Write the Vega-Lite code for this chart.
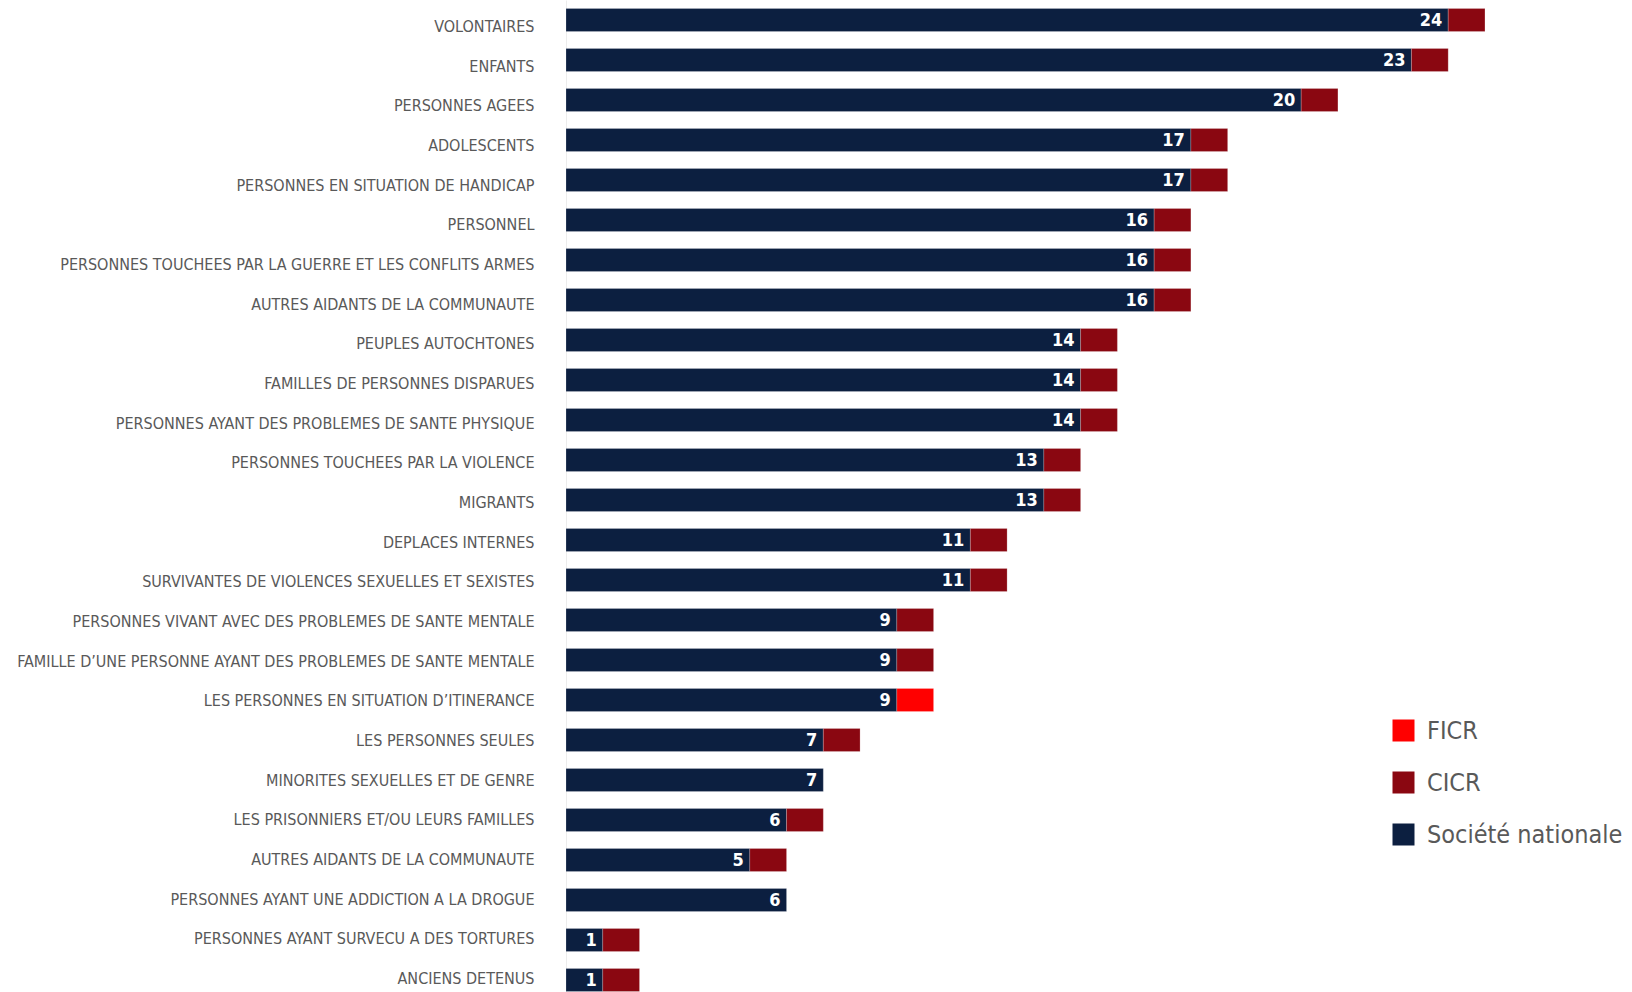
{
  "$schema": "https://vega.github.io/schema/vega-lite/v6.json",
  "width": 1066,
  "height": 1000,
  "padding": 0,
  "background": "white",
  "config": {"view": {"stroke": null}},
  "data": {"values": [
    {"cat": "VOLONTAIRES", "rank": 1, "org": "Société nationale", "n": 24},
    {"cat": "VOLONTAIRES", "rank": 1, "org": "CICR", "n": 1},
    {"cat": "ENFANTS", "rank": 2, "org": "Société nationale", "n": 23},
    {"cat": "ENFANTS", "rank": 2, "org": "CICR", "n": 1},
    {"cat": "PERSONNES AGEES", "rank": 3, "org": "Société nationale", "n": 20},
    {"cat": "PERSONNES AGEES", "rank": 3, "org": "CICR", "n": 1},
    {"cat": "ADOLESCENTS", "rank": 4, "org": "Société nationale", "n": 17},
    {"cat": "ADOLESCENTS", "rank": 4, "org": "CICR", "n": 1},
    {"cat": "PERSONNES EN SITUATION DE HANDICAP", "rank": 5, "org": "Société nationale", "n": 17},
    {"cat": "PERSONNES EN SITUATION DE HANDICAP", "rank": 5, "org": "CICR", "n": 1},
    {"cat": "PERSONNEL", "rank": 6, "org": "Société nationale", "n": 16},
    {"cat": "PERSONNEL", "rank": 6, "org": "CICR", "n": 1},
    {"cat": "PERSONNES TOUCHEES PAR LA GUERRE ET LES CONFLITS ARMES", "rank": 7, "org": "Société nationale", "n": 16},
    {"cat": "PERSONNES TOUCHEES PAR LA GUERRE ET LES CONFLITS ARMES", "rank": 7, "org": "CICR", "n": 1},
    {"cat": "AUTRES AIDANTS DE LA COMMUNAUTE", "rank": 8, "org": "Société nationale", "n": 16},
    {"cat": "AUTRES AIDANTS DE LA COMMUNAUTE", "rank": 8, "org": "CICR", "n": 1},
    {"cat": "PEUPLES AUTOCHTONES", "rank": 9, "org": "Société nationale", "n": 14},
    {"cat": "PEUPLES AUTOCHTONES", "rank": 9, "org": "CICR", "n": 1},
    {"cat": "FAMILLES DE PERSONNES DISPARUES", "rank": 10, "org": "Société nationale", "n": 14},
    {"cat": "FAMILLES DE PERSONNES DISPARUES", "rank": 10, "org": "CICR", "n": 1},
    {"cat": "PERSONNES AYANT DES PROBLEMES DE SANTE PHYSIQUE", "rank": 11, "org": "Société nationale", "n": 14},
    {"cat": "PERSONNES AYANT DES PROBLEMES DE SANTE PHYSIQUE", "rank": 11, "org": "CICR", "n": 1},
    {"cat": "PERSONNES TOUCHEES PAR LA VIOLENCE", "rank": 12, "org": "Société nationale", "n": 13},
    {"cat": "PERSONNES TOUCHEES PAR LA VIOLENCE", "rank": 12, "org": "CICR", "n": 1},
    {"cat": "MIGRANTS", "rank": 13, "org": "Société nationale", "n": 13},
    {"cat": "MIGRANTS", "rank": 13, "org": "CICR", "n": 1},
    {"cat": "DEPLACES INTERNES", "rank": 14, "org": "Société nationale", "n": 11},
    {"cat": "DEPLACES INTERNES", "rank": 14, "org": "CICR", "n": 1},
    {"cat": "SURVIVANTES DE VIOLENCES SEXUELLES ET SEXISTES", "rank": 15, "org": "Société nationale", "n": 11},
    {"cat": "SURVIVANTES DE VIOLENCES SEXUELLES ET SEXISTES", "rank": 15, "org": "CICR", "n": 1},
    {"cat": "PERSONNES VIVANT AVEC DES PROBLEMES DE SANTE MENTALE", "rank": 16, "org": "Société nationale", "n": 9},
    {"cat": "PERSONNES VIVANT AVEC DES PROBLEMES DE SANTE MENTALE", "rank": 16, "org": "CICR", "n": 1},
    {"cat": "FAMILLE D’UNE PERSONNE AYANT DES PROBLEMES DE SANTE MENTALE", "rank": 17, "org": "Société nationale", "n": 9},
    {"cat": "FAMILLE D’UNE PERSONNE AYANT DES PROBLEMES DE SANTE MENTALE", "rank": 17, "org": "CICR", "n": 1},
    {"cat": "LES PERSONNES EN SITUATION D’ITINERANCE", "rank": 18, "org": "Société nationale", "n": 9},
    {"cat": "LES PERSONNES EN SITUATION D’ITINERANCE", "rank": 18, "org": "FICR", "n": 1},
    {"cat": "LES PERSONNES SEULES", "rank": 19, "org": "Société nationale", "n": 7},
    {"cat": "LES PERSONNES SEULES", "rank": 19, "org": "CICR", "n": 1},
    {"cat": "MINORITES SEXUELLES ET DE GENRE", "rank": 20, "org": "Société nationale", "n": 7},
    {"cat": "LES PRISONNIERS ET/OU LEURS FAMILLES", "rank": 21, "org": "Société nationale", "n": 6},
    {"cat": "LES PRISONNIERS ET/OU LEURS FAMILLES", "rank": 21, "org": "CICR", "n": 1},
    {"cat": "AUTRES AIDANTS DE LA COMMUNAUTE ", "rank": 22, "org": "Société nationale", "n": 5},
    {"cat": "AUTRES AIDANTS DE LA COMMUNAUTE ", "rank": 22, "org": "CICR", "n": 1},
    {"cat": "PERSONNES AYANT UNE ADDICTION A LA DROGUE", "rank": 23, "org": "Société nationale", "n": 6},
    {"cat": "PERSONNES AYANT SURVECU A DES TORTURES", "rank": 24, "org": "Société nationale", "n": 1},
    {"cat": "PERSONNES AYANT SURVECU A DES TORTURES", "rank": 24, "org": "CICR", "n": 1},
    {"cat": "ANCIENS DETENUS", "rank": 25, "org": "Société nationale", "n": 1},
    {"cat": "ANCIENS DETENUS", "rank": 25, "org": "CICR", "n": 1}
  ]},
  "encoding": {
    "y": {
      "field": "cat", "type": "nominal",
      "sort": {"field": "rank", "op": "min", "order": "ascending"},
      "scale": {"paddingInner": 0.425, "paddingOuter": 0.2125},
      "axis": {
        "title": null, "ticks": false, "domain": true, "domainColor": "#ececec", "domainWidth": 1,
        "labelPadding": 32, "minExtent": 566, "maxExtent": 566, "labelLimit": 800,
        "labelFont": "Liberation Sans Narrow, DejaVu Sans Condensed, Roboto, sans-serif",
        "labelFontSize": 16, "labelColor": "#595959",
        "labelOffset": {"expr": "7 - 8 * datum.index"}
      }
    }
  },
  "layer": [
    {
      "mark": {"type": "bar", "stroke": "#ffffff", "strokeWidth": 0.5, "strokeOpacity": 0.4},
      "encoding": {
        "x": {"field": "n", "type": "quantitative", "stack": "zero", "scale": {"domain": [0, 29], "nice": false, "zero": true}, "axis": null},
        "color": {
          "field": "org", "type": "nominal",
          "scale": {"domain": ["FICR", "CICR", "Société nationale"], "range": ["#ff0000", "#8a0711", "#0c1f40"]},
          "legend": {
            "title": null, "orient": "none", "legendX": 825, "legendY": 718,
            "symbolType": "square", "symbolSize": 484, "symbolStrokeWidth": 0,
            "labelFontSize": 25, "labelColor": "#595959", "labelLimit": 400,
            "labelFont": "Liberation Sans Narrow, DejaVu Sans Condensed, Roboto, sans-serif",
            "labelOffset": 11, "rowPadding": 26, "padding": 0
          }
        },
        "order": {"field": "org", "sort": "descending"}
      }
    },
    {
      "transform": [{"filter": "datum.org === 'Société nationale'"}],
      "mark": {"type": "text", "align": "right", "baseline": "middle", "dx": -6, "dy": 1, "color": "white", "fontWeight": "bold", "fontSize": 18, "font": "Liberation Sans Narrow, DejaVu Sans Condensed, Roboto, sans-serif"},
      "encoding": {
        "x": {"field": "n", "type": "quantitative"},
        "text": {"field": "n", "type": "quantitative"}
      }
    }
  ]
}
